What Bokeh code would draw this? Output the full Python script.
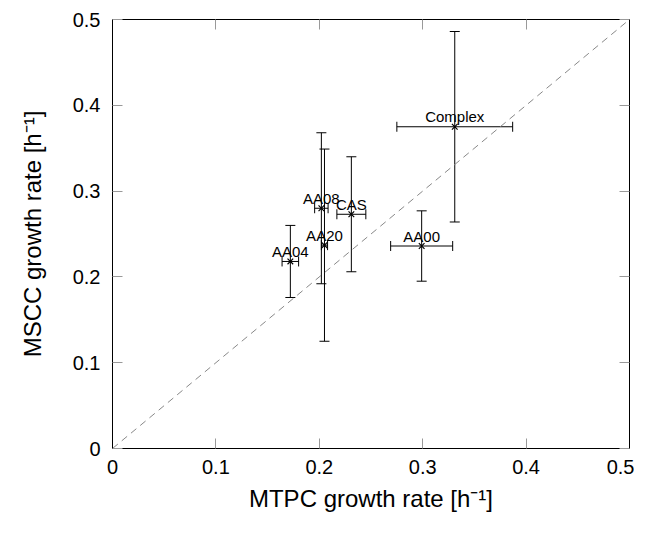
from bokeh.plotting import figure
from bokeh.models import (Range1d, LinearAxis, FixedTicker, NumeralTickFormatter,
                          CustomJSTickFormatter, ColumnDataSource, Whisker, TeeHead)
from bokeh.core.properties import value
from bokeh.embed import file_html
from bokeh.resources import INLINE

# ---- data ----
names = ["Complex", "AA00", "CAS", "AA08", "AA20", "AA04"]
mtpc = [0.331, 0.299, 0.231, 0.202, 0.205, 0.172]
mtpc_err = [0.056, 0.030, 0.014, 0.0065, 0.003, 0.008]
mscc = [0.375, 0.236, 0.273, 0.280, 0.237, 0.218]
mscc_err = [0.111, 0.041, 0.067, 0.088, 0.112, 0.042]
tick_values = [0, 0.1, 0.2, 0.3, 0.4, 0.5]
diag = [0, 0.5]

FONT = "Liberation Sans"

src = ColumnDataSource(dict(
    name=names, x=mtpc, y=mscc,
    xl=[a - b for a, b in zip(mtpc, mtpc_err)],
    xu=[a + b for a, b in zip(mtpc, mtpc_err)],
    yl=[a - b for a, b in zip(mscc, mscc_err)],
    yu=[a + b for a, b in zip(mscc, mscc_err)],
))

p = figure(frame_width=517, frame_height=429,
           min_border_left=112, min_border_top=19, min_border_right=5, min_border_bottom=10,
           x_range=Range1d(0, 0.5), y_range=Range1d(0, 0.5),
           output_backend="svg", toolbar_location=None)
p.grid.visible = False
p.outline_line_color = "black"
p.outline_line_alpha = 1
p.outline_line_width = 1
p.background_fill_color = "white"
p.border_fill_color = "white"

ticker = FixedTicker(ticks=tick_values)
for ax in (p.xaxis[0], p.yaxis[0]):
    ax.ticker = ticker
    ax.formatter = NumeralTickFormatter(format="0.[0]")
    ax.major_tick_in = 10
    ax.major_tick_out = 0
    ax.major_tick_line_color = "#999999"
    ax.minor_tick_line_color = None
    ax.axis_line_color = "black"
    ax.major_label_text_font = FONT
    ax.major_label_text_font_size = "20px"
    ax.major_label_text_color = "black"
    ax.axis_label_text_font = FONT
    ax.axis_label_text_font_size = "24px"
    ax.axis_label_text_font_style = "normal"
    ax.axis_label_text_color = "black"

p.xaxis[0].axis_label = "MTPC growth rate [h\u207b\u00b9]"
p.yaxis[0].axis_label = "MSCC growth rate [h\u207b\u00b9]"
p.xaxis[0].major_label_standoff = 11
p.yaxis[0].major_label_standoff = 12
p.xaxis[0].axis_label_standoff = 8
p.yaxis[0].axis_label_standoff = 24

for loc in ("above", "right"):
    ax = LinearAxis(ticker=ticker, major_tick_in=10, major_tick_out=0,
                    major_tick_line_color="#999999", minor_tick_line_color=None,
                    axis_line_color="black",
                    formatter=CustomJSTickFormatter(code="return ''"),
                    major_label_standoff=0)
    p.add_layout(ax, loc)

# diagonal reference line
p.line(diag, diag, line_color="#888888", line_width=1, line_dash="7 5")

head = dict(size=10, line_color="black", line_width=1)
p.add_layout(Whisker(source=src, base="x", lower="yl", upper="yu", dimension="height",
                     line_color="black", line_width=1,
                     lower_head=TeeHead(**head), upper_head=TeeHead(**head)))
p.add_layout(Whisker(source=src, base="y", lower="xl", upper="xu", dimension="width",
                     line_color="black", line_width=1,
                     lower_head=TeeHead(**head), upper_head=TeeHead(**head)))

p.scatter("x", "y", source=src, marker="x", size=8, line_color="black", line_width=1.2)

p.text("x", "y", text="name", source=src, text_align="center", text_baseline="alphabetic",
       y_offset=-10, text_font=value(FONT), text_font_size="15px", text_color="black")

open("out.html", "w").write(file_html(p, INLINE))
